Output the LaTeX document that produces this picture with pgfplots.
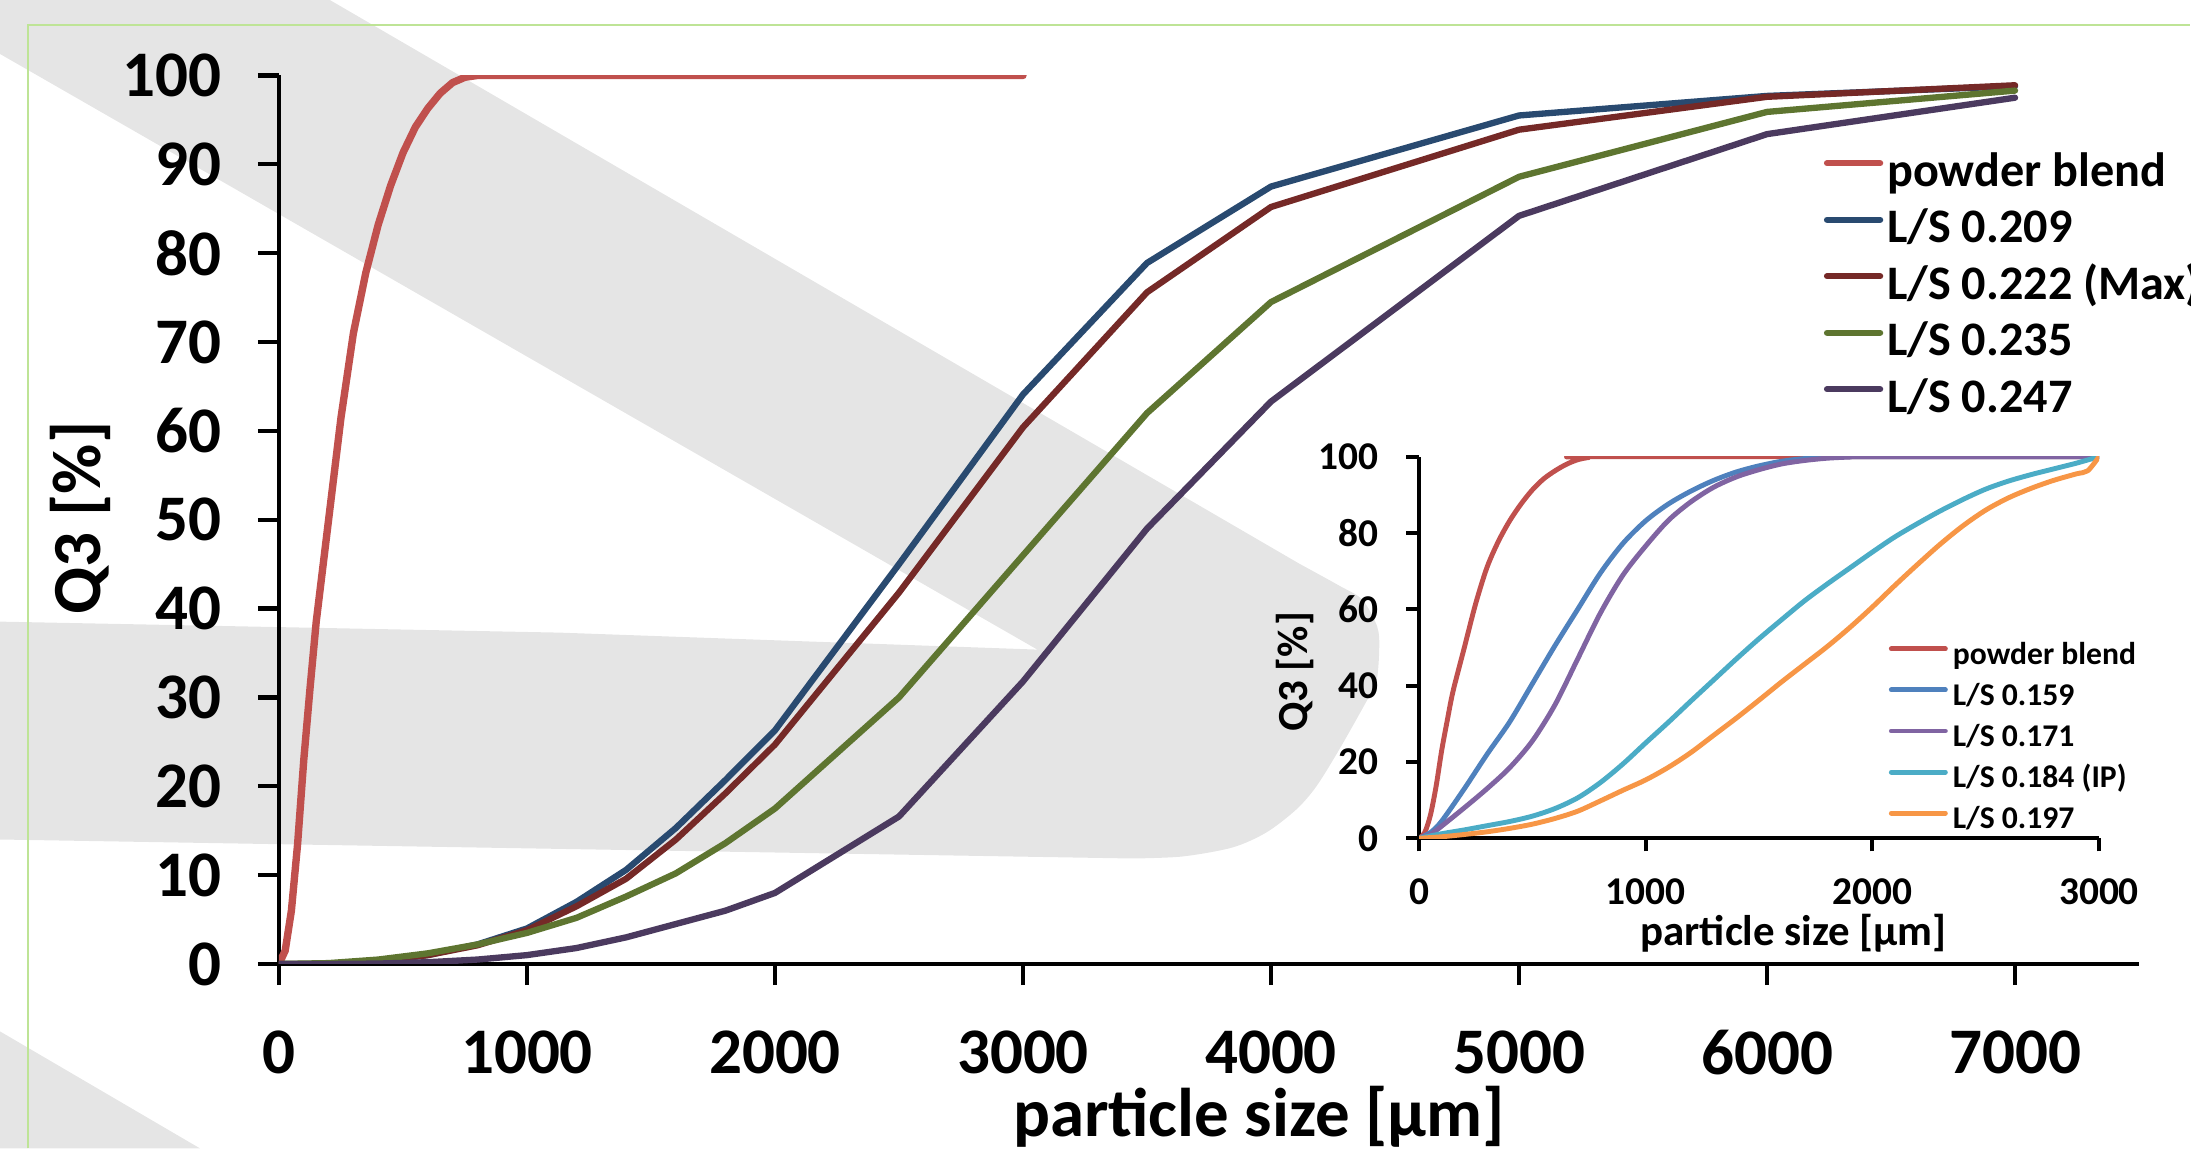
\documentclass[border=0pt]{standalone}
\usepackage{pgfplots}
\pgfplotsset{compat=1.18}
\usepackage{fontspec}
\setmainfont{Carlito}

\definecolor{pbred}{RGB}{192,80,77}
\definecolor{lsblue}{RGB}{41,74,112}
\definecolor{lsred}{RGB}{117,41,39}
\definecolor{lsgreen}{RGB}{94,117,48}
\definecolor{lspurple}{RGB}{75,58,95}
\definecolor{iblue}{RGB}{79,129,189}
\definecolor{ipurple}{RGB}{128,100,162}
\definecolor{icyan}{RGB}{75,172,198}
\definecolor{iorange}{RGB}{247,150,70}
\definecolor{bggray}{RGB}{229,229,229}
\definecolor{framegreen}{RGB}{190,228,150}

\begin{document}
\begin{tikzpicture}
\useasboundingbox (0,0) rectangle (21.91cm,11.49cm);

% background decoration, in pixel units of the reference
\begin{scope}[shift={(0,11.49cm)}, x=0.01cm, y=-0.01cm]
  \fill[bggray] (0,0) -- (330,0) -- (1300,564)
    -- plot[smooth] coordinates {(1300,564) (1340,586) (1363,600) (1378,627) (1380,650)
       (1377,683) (1366,704) (1340,750) (1317,787) (1297,810) (1267,833) (1233,848)
       (1183,857) (1133,859)}
    -- (0,840) -- (0,622) -- (560,633) -- (1038,650) -- (0,54) -- cycle;
  \fill[bggray] (0,1032) -- (200,1149) -- (0,1149) -- cycle;
  \draw[framegreen, line width=0.02cm] (28,1149) -- (28,25) -- (2191,25);
\end{scope}

% main chart
\begin{axis}[
  at={(2.79cm,1.85cm)}, anchor=south west,
  width=18.6cm, height=8.885cm, scale only axis,
  xmin=0, xmax=7500, ymin=0, ymax=100,
  axis lines=left, axis line style={-, line width=1.3pt},
  xtick={0,1000,...,7000}, ytick={0,10,...,100},
  tick align=outside, major tick length=0.21cm,
  tick style={line width=1.2pt, black},
  tick label style={font=\fontsize{18.5}{19}\selectfont\bfseries},
  xticklabel style={anchor=north, yshift=-0.33cm},
  yticklabel style={anchor=east, xshift=-0.24cm},
  xlabel={particle size [µm]}, ylabel={Q3 [\%]},
  label style={font=\fontsize{19.6}{20}\selectfont\bfseries},
  xlabel style={at={(axis description cs:0.527,-0.172)}, anchor=center},
  ylabel style={at={(axis description cs:-0.1065,0.502)}, anchor=center},
  legend cell align={left},
  legend style={at={(0.8306,0.9135)}, anchor=north west, draw=none, fill=none,
    inner sep=0pt, outer sep=0pt, row sep=0.108cm, column sep=0.04cm,
    font=\fontsize{13.7}{14}\selectfont\bfseries,
    nodes={inner sep=0pt, text height=9.6pt, text depth=3.4pt}},
  legend image code/.code={\draw[#1, line width=1.8pt] (0cm,3.4pt) -- (0.53cm,3.4pt);},
  every axis plot/.append style={line width=1.8pt, line cap=round, line join=round},
  /pgf/number format/assume math mode=true,
  /pgf/number format/1000 sep={},
]
\addplot[pbred, line width=2.1pt] coordinates {(0,0) (25,1.5) (50,6) (75,13.5) (100,23) (125,31) (150,38.5)
  (200,50) (250,61.5) (300,71) (350,77.8) (400,83.2) (450,87.6) (500,91.3) (550,94.2)
  (600,96.3) (650,98) (700,99.2) (750,99.8) (800,100) (3000,100)};
\addlegendentry{powder blend}
\addplot[lsblue] coordinates {(0,0) (200,0) (400,0.3) (600,1) (800,2.2) (1000,4) (1200,7)
  (1400,10.6) (1600,15.3) (1800,20.7) (2000,26.3) (2500,45) (3000,64.1) (3500,78.9)
  (4000,87.5) (5000,95.5) (6000,97.7) (7000,98.8)};
\addlegendentry{L/S 0.209}
\addplot[lsred] coordinates {(0,0) (200,0) (400,0.3) (600,1) (800,2.1) (1000,3.8) (1200,6.5)
  (1400,9.6) (1600,14) (1800,19.2) (2000,24.7) (2500,41.8) (3000,60.4) (3500,75.6)
  (4000,85.2) (5000,93.9) (6000,97.6) (7000,98.9)};
\addlegendentry{L/S 0.222 (Max)}
\addplot[lsgreen] coordinates {(0,0) (200,0.1) (400,0.5) (600,1.2) (800,2.2) (1000,3.5)
  (1200,5.2) (1400,7.6) (1600,10.2) (1800,13.6) (2000,17.5) (2500,30) (3000,46)
  (3500,62) (4000,74.5) (5000,88.6) (6000,95.9) (7000,98.3)};
\addlegendentry{L/S 0.235}
\addplot[lspurple] coordinates {(0,0) (200,0) (400,0.05) (600,0.2) (800,0.5) (1000,1)
  (1200,1.8) (1400,3) (1600,4.5) (1800,6) (2000,8) (2500,16.6) (3000,31.8) (3500,49)
  (4000,63.3) (5000,84.2) (6000,93.4) (7000,97.5)};
\addlegendentry{L/S 0.247}
\end{axis}

% inset chart
\begin{axis}[
  at={(14.19cm,3.107cm)}, anchor=south west,
  width=6.8cm, height=3.816cm, scale only axis,
  xmin=0, xmax=3000, ymin=0, ymax=100,
  axis lines=left, axis line style={-, line width=1.15pt},
  xtick={0,1000,2000,3000}, ytick={0,20,...,100},
  tick align=outside, major tick length=0.13cm,
  tick style={line width=1.1pt, black},
  tick label style={font=\fontsize{11.2}{12}\selectfont\bfseries},
  xticklabel style={anchor=north, yshift=-0.15cm},
  yticklabel style={anchor=east, xshift=-0.15cm},
  xlabel={particle size [µm]}, ylabel={Q3 [\%]},
  label style={font=\fontsize{12.2}{13}\selectfont\bfseries},
  xlabel style={at={(axis description cs:0.551,-0.25)}, anchor=center},
  ylabel style={at={(axis description cs:-0.182,0.436)}, anchor=center},
  legend cell align={left},
  legend style={at={(0.691,0.5145)}, anchor=north west, draw=none, fill=none,
    inner sep=0pt, outer sep=0pt, row sep=0.11cm, column sep=0.05cm,
    font=\fontsize{9}{10}\selectfont\bfseries,
    nodes={inner sep=0pt, text height=6.3pt, text depth=2.25pt}},
  legend image code/.code={\draw[#1, line width=1.4pt] (0cm,2.3pt) -- (0.54cm,2.3pt);},
  every axis plot/.append style={line width=1.4pt, line cap=round, line join=round, smooth, tension=0.5},
  /pgf/number format/assume math mode=true,
  /pgf/number format/1000 sep={},
]
\addplot[pbred] coordinates {(0,0) (25,1.5) (50,6) (75,13.5) (100,23) (125,31) (150,38.5)
  (200,50) (250,61.5) (300,71) (350,77.8) (400,83.2) (450,87.6) (500,91.3) (550,94.2)
  (600,96.3) (650,98) (700,99.2) (750,99.8) (800,100) (3000,100)};
\addlegendentry{powder blend}
\addplot[iblue] coordinates {(0,0) (50,1.5) (100,4.5) (200,13) (300,22) (400,30.5) (500,40.5)
  (600,50.5) (700,60) (800,69.5) (900,77.3) (1000,83.2) (1100,87.6) (1200,91) (1300,93.8)
  (1400,96) (1500,97.6) (1600,98.8) (1700,99.5) (1800,99.9) (1900,100) (3000,100)};
\addlegendentry{L/S 0.159}
\addplot[ipurple] coordinates {(0,0) (50,1) (100,3.2) (200,8) (300,13) (400,18.5) (500,25.5)
  (600,35) (700,47) (800,59) (900,69) (1000,76.6) (1100,83.3) (1200,88.2) (1300,92)
  (1400,94.7) (1500,96.6) (1600,98.1) (1700,99) (1800,99.6) (1900,99.9) (2000,100) (3000,100)};
\addlegendentry{L/S 0.171}
\addplot[icyan] coordinates {(0,0) (100,1.2) (200,2.2) (300,3.3) (400,4.4) (500,5.8) (600,7.8)
  (700,10.6) (800,14.6) (900,19.5) (1000,25) (1100,30.4) (1200,36) (1300,41.5) (1400,47)
  (1500,52.3) (1600,57.3) (1700,62.2) (1800,66.6) (1900,70.8) (2000,75) (2100,79) (2200,82.5)
  (2300,85.8) (2400,88.8) (2500,91.5) (2600,93.6) (2700,95.3) (2800,96.8) (2900,98.3) (3000,100)};
\addlegendentry{L/S 0.184 (IP)}
\addplot[iorange] coordinates {(0,0) (100,0.4) (200,1) (300,1.7) (400,2.6) (500,3.7) (600,5.2)
  (700,7.1) (800,9.8) (900,12.6) (1000,15.3) (1100,18.6) (1200,22.5) (1300,27) (1400,31.5)
  (1500,36.2) (1600,41) (1700,45.6) (1800,50.2) (1900,55.2) (2000,60.6) (2100,66.3) (2200,71.8)
  (2300,77.1) (2400,81.9) (2500,86) (2600,89.2) (2700,91.7) (2800,93.8) (2900,95.5) (2950,96.3)
  (3000,100)};
\addlegendentry{L/S 0.197}
\end{axis}
\end{tikzpicture}
\end{document}
